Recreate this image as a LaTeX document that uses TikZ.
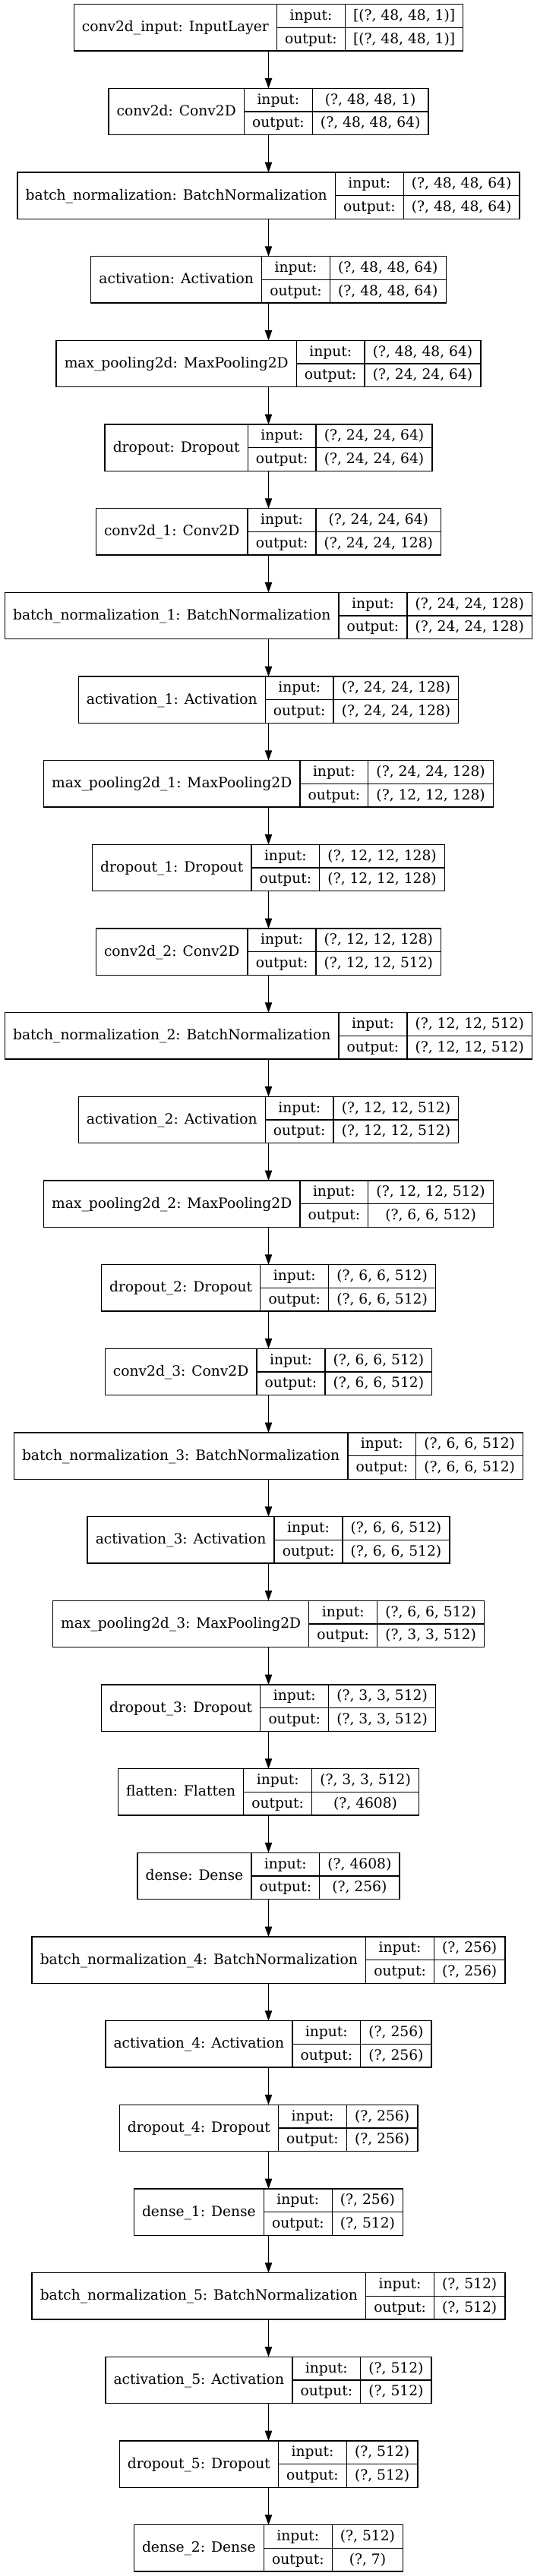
\documentclass[tikz,border=0pt]{standalone}
\usepackage{fontspec}
\setmainfont{DejaVu Serif}
\usetikzlibrary{arrows.meta, positioning, fit}
\newcommand\recfont{\fontsize{14bp}{16.8bp}\selectfont}
\newcommand\textw[2]{\settowidth#1{\pgfinterruptpicture\recfont#2\endpgfinterruptpicture}}
\newlength\namew
\newlength\iow
\newlength\valw
\newlength\outw
\newlength\recw

\begin{document}
\begin{tikzpicture}[
    cell/.style={rectangle, draw=black, line width=1bp, inner sep=0pt, outer sep=0pt, minimum height=23bp, text height=11bp, text depth=3bp, font=\recfont},
    namecell/.style={cell, minimum height=46bp},
    arrow/.style={-{Triangle[length=10bp, width=7bp]}, line width=1bp}
]
\useasboundingbox (0,0) rectangle (530.25bp,-2544.75bp);
\textw\iow{output:}
\addtolength\iow{16bp}

\foreach \id/\lbl/\vin/\vout [count=\i] in {
    input/{conv2d\_input: InputLayer}/{[(?, 48, 48, 1)]}/{[(?, 48, 48, 1)]},
    conv/{conv2d: Conv2D}/{(?, 48, 48, 1)}/{(?, 48, 48, 64)},
    bn/{batch\_normalization: BatchNormalization}/{(?, 48, 48, 64)}/{(?, 48, 48, 64)},
    act/{activation: Activation}/{(?, 48, 48, 64)}/{(?, 48, 48, 64)},
    pool/{max\_pooling2d: MaxPooling2D}/{(?, 48, 48, 64)}/{(?, 24, 24, 64)},
    drop/{dropout: Dropout}/{(?, 24, 24, 64)}/{(?, 24, 24, 64)},
    conv1/{conv2d\_1: Conv2D}/{(?, 24, 24, 64)}/{(?, 24, 24, 128)},
    bn1/{batch\_normalization\_1: BatchNormalization}/{(?, 24, 24, 128)}/{(?, 24, 24, 128)},
    act1/{activation\_1: Activation}/{(?, 24, 24, 128)}/{(?, 24, 24, 128)},
    pool1/{max\_pooling2d\_1: MaxPooling2D}/{(?, 24, 24, 128)}/{(?, 12, 12, 128)},
    drop1/{dropout\_1: Dropout}/{(?, 12, 12, 128)}/{(?, 12, 12, 128)},
    conv2/{conv2d\_2: Conv2D}/{(?, 12, 12, 128)}/{(?, 12, 12, 512)},
    bn2/{batch\_normalization\_2: BatchNormalization}/{(?, 12, 12, 512)}/{(?, 12, 12, 512)},
    act2/{activation\_2: Activation}/{(?, 12, 12, 512)}/{(?, 12, 12, 512)},
    pool2/{max\_pooling2d\_2: MaxPooling2D}/{(?, 12, 12, 512)}/{(?, 6, 6, 512)},
    drop2/{dropout\_2: Dropout}/{(?, 6, 6, 512)}/{(?, 6, 6, 512)},
    conv3/{conv2d\_3: Conv2D}/{(?, 6, 6, 512)}/{(?, 6, 6, 512)},
    bn3/{batch\_normalization\_3: BatchNormalization}/{(?, 6, 6, 512)}/{(?, 6, 6, 512)},
    act3/{activation\_3: Activation}/{(?, 6, 6, 512)}/{(?, 6, 6, 512)},
    pool3/{max\_pooling2d\_3: MaxPooling2D}/{(?, 6, 6, 512)}/{(?, 3, 3, 512)},
    drop3/{dropout\_3: Dropout}/{(?, 3, 3, 512)}/{(?, 3, 3, 512)},
    flat/{flatten: Flatten}/{(?, 3, 3, 512)}/{(?, 4608)},
    dense/{dense: Dense}/{(?, 4608)}/{(?, 256)},
    bn4/{batch\_normalization\_4: BatchNormalization}/{(?, 256)}/{(?, 256)},
    act4/{activation\_4: Activation}/{(?, 256)}/{(?, 256)},
    drop4/{dropout\_4: Dropout}/{(?, 256)}/{(?, 256)},
    dense1/{dense\_1: Dense}/{(?, 256)}/{(?, 512)},
    bn5/{batch\_normalization\_5: BatchNormalization}/{(?, 512)}/{(?, 512)},
    act5/{activation\_5: Activation}/{(?, 512)}/{(?, 512)},
    drop5/{dropout\_5: Dropout}/{(?, 512)}/{(?, 512)},
    dense2/{dense\_2: Dense}/{(?, 512)}/{(?, 7)}
}{
    \textw\namew{\lbl}
    \addtolength\namew{16bp}
    \textw\valw{\vin}
    \textw\outw{\vout}
    \ifdim\outw>\valw \setlength\valw{\outw}\fi
    \addtolength\valw{16bp}
    \setlength\recw{\dimexpr\namew+\iow+\valw\relax}
    \pgfmathsetlengthmacro\nx{265.125bp-0.5*\recw+0.5*\namew}
    \pgfmathsetlengthmacro\ny{-27.25bp-83bp*(\i-1)}
    \node[namecell, minimum width=\namew] (\id-name) at (\nx,\ny) {\lbl};
    \node[cell, minimum width=\iow, anchor=north west] (\id-in) at (\id-name.north east) {input:};
    \node[cell, minimum width=\iow, below=0pt of \id-in] (\id-out) {output:};
    \node[cell, minimum width=\valw, anchor=north west] (\id-vin) at (\id-in.north east) {\vin};
    \node[cell, minimum width=\valw, below=0pt of \id-vin] (\id-vout) {\vout};
    \node[fit=(\id-name)(\id-vout), inner sep=0pt, outer sep=0pt] (\id) {};
    \ifnum\i>1 \draw[arrow] (\prev.south) -- (\id.north); \fi
    \xdef\prev{\id}
}

\end{tikzpicture}
\end{document}
